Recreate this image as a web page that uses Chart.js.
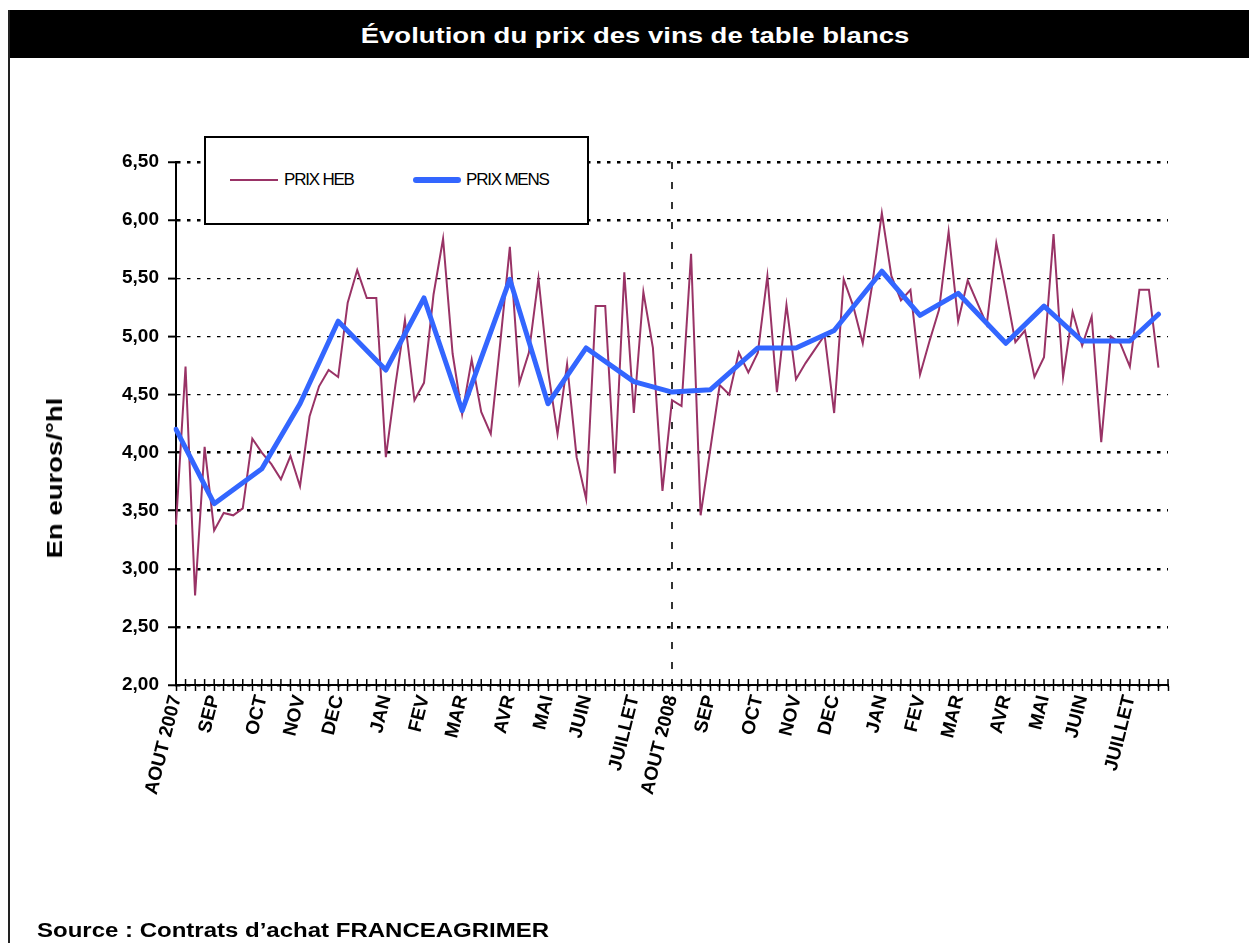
<!DOCTYPE html>
<html>
<head>
<meta charset="utf-8">
<script src="https://cdn.jsdelivr.net/npm/chart.js@4/dist/chart.umd.min.js"></script>
<style>
html,body{margin:0;padding:0;background:#fff;width:1249px;height:943px;overflow:hidden;font-family:Arial,"Liberation Sans",sans-serif;}
#wrap{position:relative;width:1249px;height:943px;}
#chart{position:absolute;left:0;top:0;}
#titlebar{position:absolute;left:8px;top:10px;width:1241px;height:48px;background:#000;}
#titlebar span{position:absolute;left:627px;top:26px;transform:translate(-50%,-50%) scaleX(1.25);color:#fff;font-weight:bold;font-size:22px;white-space:nowrap;}
#leftborder{position:absolute;left:8px;top:10px;width:2px;height:933px;background:#222;}
#ytitle{position:absolute;left:55px;top:478px;transform:translate(-50%,-50%) rotate(-90deg) scaleX(1.25);font-weight:bold;font-size:22px;white-space:nowrap;color:#000;}
#source{position:absolute;left:37px;top:930px;transform:translateY(-50%) scaleX(1.2);transform-origin:left center;font-weight:bold;font-size:20px;white-space:nowrap;color:#000;}
#legend{position:absolute;left:204px;top:136px;width:381px;height:85px;border:2px solid #000;background:#fff;}
.lg-line{position:absolute;}
.lg-text{position:absolute;top:42px;transform:translateY(-50%);font-size:17px;letter-spacing:-1.2px;color:#000;white-space:nowrap;}
</style>
</head>
<body>
<div id="wrap">
  <canvas id="chart" width="1249" height="943"></canvas>
  <div id="titlebar"><span>Évolution du prix des vins de table blancs</span></div>
  <div id="leftborder"></div>
  <div id="ytitle">En euros/°hl</div>
  <div id="legend">
    <div class="lg-line" style="left:24px;top:41px;width:48px;height:2px;background:#993366;"></div>
    <div class="lg-text" style="left:78px;">PRIX HEB</div>
    <div class="lg-line" style="left:207px;top:39px;width:48px;height:6px;border-radius:3px;background:#3366FF;"></div>
    <div class="lg-text" style="left:260px;">PRIX MENS</div>
  </div>
  <div id="source">Source : Contrats d’achat FRANCEAGRIMER</div>
</div>
<script>
// ---- Data ----
const WEEK_COUNT = 105; // weekly categories, Aug 2007 -> Jul 2009 (+1 trailing slot)
const monthWeeks = [0,4,9,13,17,22,26,30,35,39,43,48,52,56,61,65,69,74,78,82,87,91,95,100];
const monthNames = ['AOUT 2007','SEP','OCT','NOV','DEC','JAN','FEV','MAR','AVR','MAI','JUIN','JUILLET',
                    'AOUT 2008','SEP','OCT','NOV','DEC','JAN','FEV','MAR','AVR','MAI','JUIN','JUILLET'];
const dividerWeek = 52; // AOUT 2008

const prixHeb = [
  3.38,4.74,2.77,4.05,3.33,3.48,3.46,3.52,4.12,4.00,
  3.90,3.77,3.97,3.71,4.31,4.57,4.71,4.65,5.29,5.57,
  5.33,5.33,3.96,4.58,5.14,4.45,4.60,5.36,5.84,4.85,
  4.33,4.80,4.35,4.16,4.95,5.77,4.60,4.86,5.50,4.71,
  4.16,4.76,3.96,3.60,5.26,5.26,3.82,5.55,4.34,5.38,
  4.90,3.67,4.45,4.40,5.71,3.46,4.02,4.58,4.50,4.86,
  4.69,4.86,5.52,4.52,5.27,4.63,4.77,4.89,5.01,4.34,
  5.49,5.26,4.94,5.45,6.06,5.52,5.31,5.40,4.67,4.96,
  5.23,5.90,5.13,5.48,5.29,5.10,5.80,5.39,4.95,5.05,
  4.65,4.82,5.88,4.65,5.21,4.92,5.17,4.09,5.00,4.94,
  4.74,5.40,5.40,4.73
];
const mensWeeks  = [0,4,9,13,17,22,26,30,35,39,43,48,52,56,61,65,69,74,78,82,87,91,95,100,103];
const mensValues = [4.20,3.56,3.86,4.42,5.13,4.71,5.33,4.36,5.49,4.42,4.90,4.61,4.52,4.54,4.90,4.90,5.05,5.56,5.18,5.37,4.94,5.26,4.96,4.96,5.19];

const yTickValues = [2.0,2.5,3.0,3.5,4.0,4.5,5.0,5.5,6.0,6.5];
const yTickLabels = ['2,00','2,50','3,00','3,50','4,00','4,50','5,00','5,50','6,00','6,50'];
const thinGridValues = [4.5,5.0,5.5];

// ---- Derived tables for the library ----
const weekLabels = Array.from({length: WEEK_COUNT}, (_, i) => {
  const k = monthWeeks.indexOf(i);
  return k >= 0 ? monthNames[k] : '';
});
const mensSeries = weekLabels.map((_, i) => {
  const k = mensWeeks.indexOf(i);
  return k >= 0 ? mensValues[k] : null;
});

const FONT = 'Arial, "Liberation Sans", sans-serif';

const decoPlugin = {
  id: 'deco',
  beforeDatasetsDraw(chart) {
    const {ctx, chartArea, scales} = chart;
    const x = scales.x.getPixelForValue(dividerWeek);
    ctx.save();
    ctx.strokeStyle = '#333';
    ctx.lineWidth = 2;
    ctx.setLineDash([7, 13]);
    ctx.beginPath();
    ctx.moveTo(x, chartArea.top);
    ctx.lineTo(x, chartArea.bottom);
    ctx.stroke();
    ctx.restore();
  },
  afterDraw(chart) {
    const {ctx, chartArea, scales} = chart;
    const xs = scales.x;
    ctx.save();
    ctx.strokeStyle = '#000';
    ctx.lineWidth = 1.5;
    ctx.beginPath();
    xs.ticks.forEach((t, i) => {
      const x = xs.getPixelForTick(i);
      ctx.moveTo(x, chartArea.bottom - 6);
      ctx.lineTo(x, chartArea.bottom);
    });
    ctx.stroke();
    ctx.restore();
  }
};

new Chart(document.getElementById('chart'), {
  type: 'line',
  data: {
    labels: weekLabels,
    datasets: [
      {
        label: 'PRIX MENS',
        data: mensSeries,
        borderColor: '#3366FF',
        backgroundColor: '#3366FF',
        borderWidth: 5,
        pointRadius: 0,
        spanGaps: true,
        tension: 0,
        borderJoinStyle: 'round',
        borderCapStyle: 'round',
        order: 0
      },
      {
        label: 'PRIX HEB',
        data: prixHeb,
        borderColor: '#993366',
        backgroundColor: '#993366',
        borderWidth: 2,
        pointRadius: 0,
        tension: 0,
        order: 1
      }
    ]
  },
  options: {
    responsive: false,
    animation: false,
    events: [],
    layout: { padding: { left: 80, top: 162, right: 81, bottom: 0 } },
    plugins: { legend: { display: false }, tooltip: { enabled: false }, title: { display: false } },
    scales: {
      x: {
        type: 'category',
        offset: false,
        grid: { display: true, drawOnChartArea: false, drawTicks: true, tickLength: 6, tickColor: '#000', tickWidth: 1.5 },
        border: { display: true, color: '#000', width: 2 },
        ticks: {
          autoSkip: false, maxRotation: 76, minRotation: 76, padding: 2,
          color: '#000', font: { family: FONT, size: 19, weight: 'bold' }
        },
        afterFit(scale) { scale.height = 258; scale.paddingLeft = 0; scale.paddingRight = 0; }
      },
      y: {
        min: 2, max: 6.5,
        afterBuildTicks(scale) { scale.ticks = yTickValues.map(v => ({ value: v })); },
        grid: {
          color: '#000',
          lineWidth: (c) => (c.tick && thinGridValues.includes(c.tick.value)) ? 1.2 : 2.5,
          drawTicks: true, tickLength: 8, tickColor: '#000', tickWidth: 2, tickBorderDash: []
        },
        border: { display: true, color: '#000', width: 2, dash: [3.5, 6.5] },
        ticks: {
          padding: 9, color: '#000',
          font: { family: FONT, size: 19, weight: 'bold' },
          callback: (v, i) => yTickLabels[i]
        },
        afterFit(scale) { scale.width = 96; scale.paddingTop = 0; scale.paddingBottom = 0; }
      }
    }
  },
  plugins: [decoPlugin]
});
</script>
</body>
</html>
